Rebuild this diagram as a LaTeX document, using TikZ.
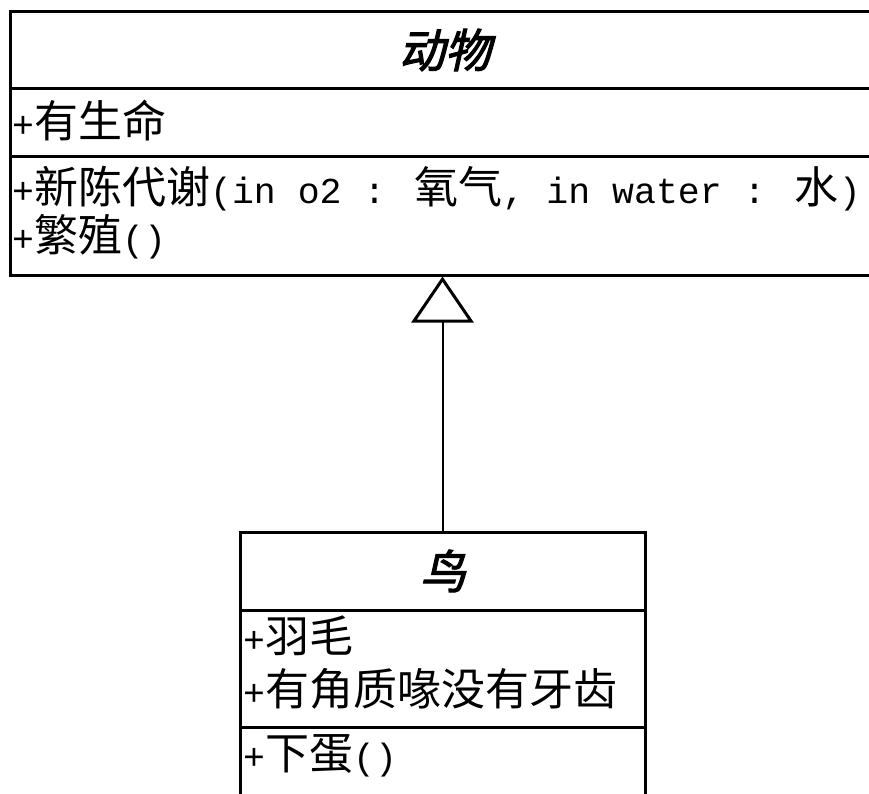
\documentclass[tikz,border=0pt]{standalone}
\usepackage{fontspec}
\setmainfont[Scale=0.83]{Liberation Mono}
\newfontfamily\cjk{Noto Sans CJK SC}
\newfontfamily\cjktitle[FakeSlant=0.22,FakeBold=2.5]{Noto Sans CJK SC}
\newcommand{\zh}[1]{{\cjk #1}}
\usetikzlibrary{arrows.meta}
\tikzset{
  classbox/.style={draw, line width=3pt, inner sep=0pt},
  divider/.style={line width=3pt},
  member/.style={anchor=west, inner sep=0pt, font=\fontsize{44}{50}\selectfont},
  classname/.style={inner sep=0pt, font=\fontsize{46}{50}\selectfont\cjktitle},
  inherit/.style={line width=2pt, -{Triangle[open, length=46pt, width=62pt, line width=3pt]}},
}
\begin{document}
\begin{tikzpicture}[x=1pt,y=-1pt]
    \useasboundingbox (0,0) rectangle (869,794);
    \fill[white] (0,0) rectangle (869,794);
    \node[classbox, minimum width=870pt, minimum height=263pt] (animal) at (445,143.5) {};
    \draw[divider] (10,89)--(880,89);
    \draw[divider] (10,157)--(880,157);
    \node[classname] (animalname) at (445,50) {动物};
    \node[member] (life) at (12,121) {+\zh{有生命}};
    \node[member] (metab) at (12,189) {+\zh{新陈代谢}(in o2 : \zh{氧气}, in water : \zh{水})};
    \node[member] (breed) at (12,237) {+\zh{繁殖}()};
    \node[classbox, minimum width=405pt, minimum height=298pt] (bird) at (442.5,681) {};
    \draw[divider] (240,610)--(645,610);
    \draw[divider] (240,727)--(645,727);
    \node[classname] (birdname) at (443,571) {鸟};
    \node[member] (feather) at (243,636) {+\zh{羽毛}};
    \node[member] (beak) at (243,689) {+\zh{有角质喙没有牙齿}};
    \node[member] (egg) at (243,756) {+\zh{下蛋}()};
    \draw[inherit] (bird.north)--(bird.north |- animal.south);
\end{tikzpicture}
\end{document}
